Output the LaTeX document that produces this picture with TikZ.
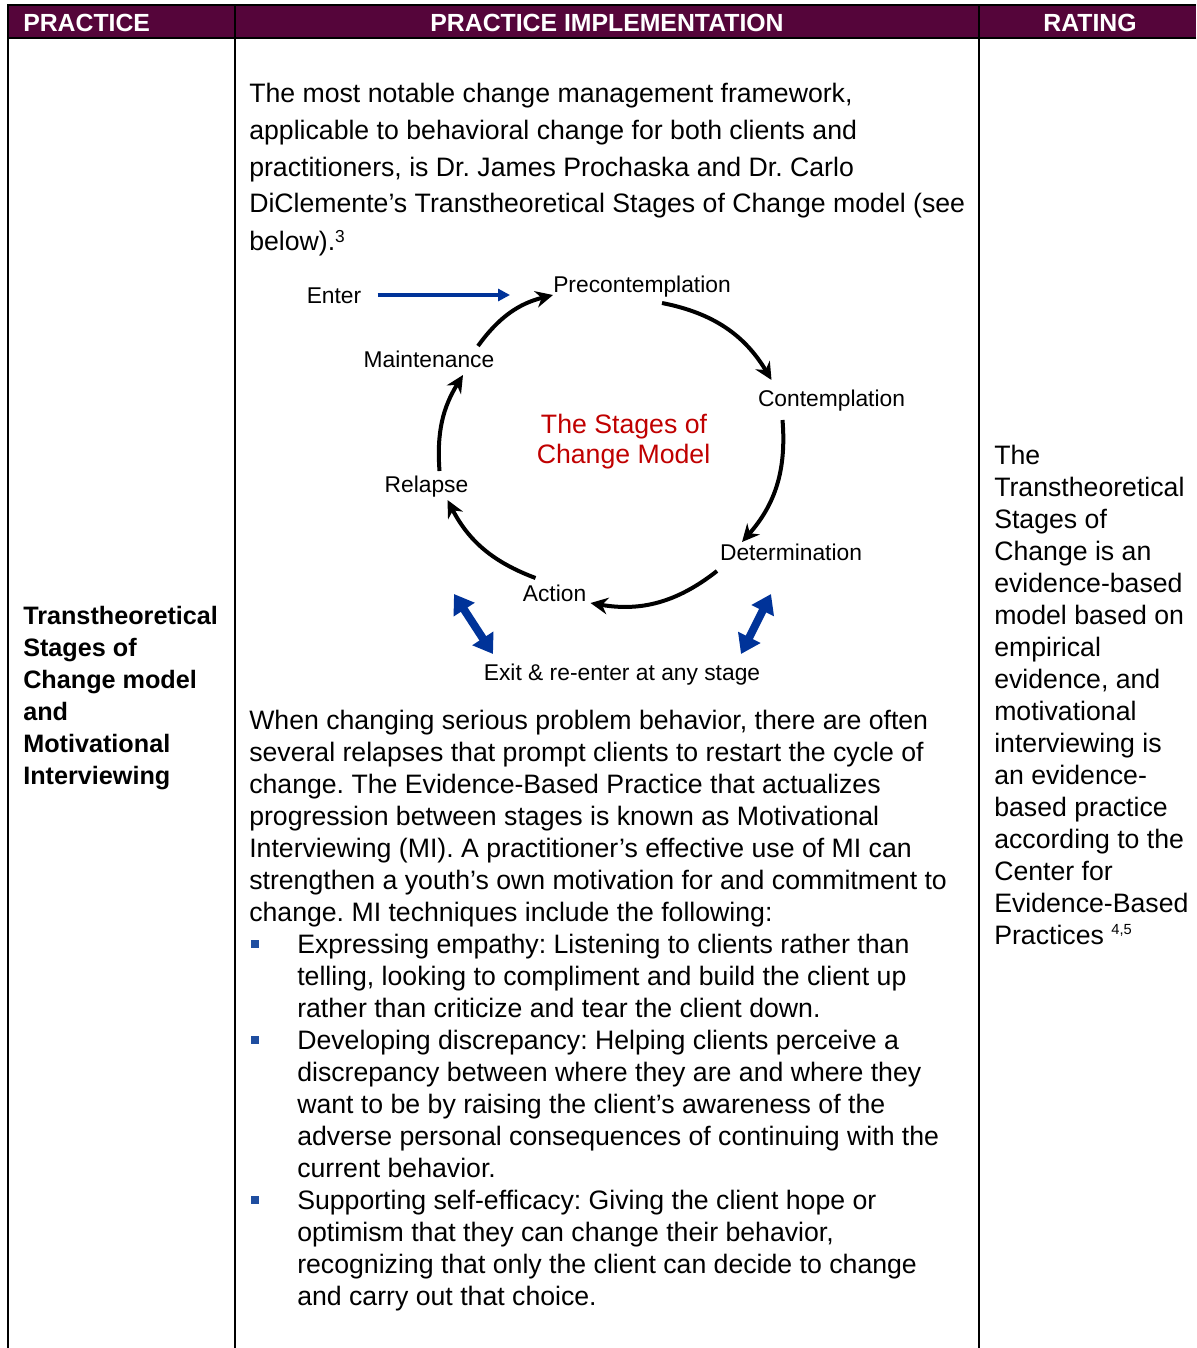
\documentclass[tikz,border=0pt]{standalone}
\usepackage{fontspec}
\setmainfont{Liberation Sans}
\usetikzlibrary{arrows.meta,calc}
\definecolor{hdrmaroon}{RGB}{85,5,58}
\definecolor{arrblue}{RGB}{0,51,153}
\definecolor{titlered}{RGB}{192,0,0}
\definecolor{bulblue}{RGB}{31,78,160}
\newcommand{\supthree}[1]{\raisebox{5.5pt}{\fontsize{13}{13}\selectfont #1}}
\newcommand{\supr}[1]{\raisebox{7.5pt}{\fontsize{11}{11}\selectfont #1}}
\frenchspacing
\begin{document}
\begin{tikzpicture}[x=0.75pt,y=-0.75pt,
  body/.style={anchor=base west, inner sep=0pt, font=\fontsize{20}{24}\selectfont},
  boldtxt/.style={anchor=base west, inner sep=0pt, font=\fontsize{18.9}{24}\selectfont\bfseries},
  hdr/.style={anchor=base, inner sep=0pt, text=white, font=\fontsize{18.6}{22}\selectfont\bfseries},
  lab/.style={anchor=base, inner sep=0pt, font=\fontsize{17.1}{20}\selectfont},
  ttl/.style={anchor=base, inner sep=0pt, text=titlered, font=\fontsize{20}{24}\selectfont},
  rule/.style={line width=1.5pt, black},
  cyc/.style={line width=3pt, -{Stealth[length=13pt,width=12.5pt]}},
  enterarr/.style={line width=2.6pt, arrblue, -{Triangle[length=9pt,width=9pt]}},
  exitarr/.style={line width=6pt, arrblue, {Triangle[length=14pt,width=18pt]}-{Triangle[length=14pt,width=18pt]}},
  bullet/.style={fill=bulblue, inner sep=0pt, minimum size=6.5pt}
]
\useasboundingbox (0,0) rectangle (1196,1348);
\fill[white] (0,0) rectangle (1196,1348);
% table
\fill[hdrmaroon] (8,6) rectangle (1196,38);
\draw[rule] (7,5.5) -- (1196,5.5);
\draw[rule] (7,38.5) -- (1196,38.5);
\draw[rule] (8,5) -- (8,1348);
\draw[rule] (235,5) -- (235,1348);
\draw[rule] (978.5,5) -- (978.5,1348);
\node[hdr, anchor=base west] (h1) at (23,31.5) {PRACTICE};
\node[hdr] (h2) at (607,31.5) {PRACTICE IMPLEMENTATION};
\node[hdr] (h3) at (1090,31.5) {RATING};
% left column
\node[boldtxt] (t1) at (23,624) {Transtheoretical};
\node[boldtxt] (t2) at (23,656) {Stages of};
\node[boldtxt] (t3) at (23,688) {Change model};
\node[boldtxt] (t4) at (23,720) {and};
\node[boldtxt] (t5) at (23,752) {Motivational};
\node[boldtxt] (t6) at (23,784) {Interviewing};
% top paragraph
\node[body] (p1) at (249,103) {The most notable change management framework,};
\node[body] (p2) at (249,140) {applicable to behavioral change for both clients and};
\node[body] (p3) at (249,177) {practitioners, is Dr. James Prochaska and Dr. Carlo};
\node[body] (p4) at (249,213) {DiClemente’s Transtheoretical Stages of Change model (see};
\node[body] (p5) at (249,250) {below).\supthree{3}};
% diagram labels
\node[lab] (enter) at (334,303) {Enter};
\node[lab] (pre) at (642,292) {Precontemplation};
\node[lab] (maint) at (429,367) {Maintenance};
\node[lab] (cont) at (831.5,406) {Contemplation};
\node[lab] (rel) at (426.5,492) {Relapse};
\node[lab] (det) at (791,560) {Determination};
\node[lab] (act) at (554.5,601) {Action};
\node[lab] (exit) at (622,680) {Exit \& re-enter at any stage};
\node[ttl] (ttl1) at (624,433) {The Stages of};
\node[ttl] (ttl2) at (623.5,463) {Change Model};
% cycle arrows
\draw[cyc] ($(maint.base)+(49,-21)$) to[bend left=20] ($(pre.base)+(-89,3)$);
\draw[cyc] ($(pre.base)+(20,11)$) to[bend left=24] ($(cont.base)+(-60,-26)$);
\draw[cyc] ($(cont.base)+(-49,14)$) to[bend left=23] ($(det.base)+(-49,-18)$);
\draw[cyc] ($(det.base)+(-74,11)$) to[bend left=24] ($(act.base)+(36,2)$);
\draw[cyc] ($(act.base)+(-19,-23)$) to[bend left=21] ($(rel.base)+(21,8)$);
\draw[cyc] ($(rel.base)+(13,-21)$) to[bend left=18] ($(maint.base)+(34,8)$);
\draw[enterarr] ($(enter.base east)+(16,-8)$) -- ($(pre.base west)+(-43,3)$);
\draw[exitarr] ($(exit.base)+(-168,-86)$) -- ($(exit.base)+(-129,-26)$);
\draw[exitarr] ($(exit.base)+(149,-86)$) -- ($(exit.base)+(119,-26)$);
% lower paragraph
\node[body] (q1) at (249,729) {When changing serious problem behavior, there are often};
\node[body] (q2) at (249,761) {several relapses that prompt clients to restart the cycle of};
\node[body] (q3) at (249,793) {change. The Evidence-Based Practice that actualizes};
\node[body] (q4) at (249,825) {progression between stages is known as Motivational};
\node[body] (q5) at (249,857) {Interviewing (MI). A practitioner’s effective use of MI can};
\node[body] (q6) at (249,889) {strengthen a youth’s own motivation for and commitment to};
\node[body] (q7) at (249,921) {change. MI techniques include the following:};
% bullets
\node[bullet] (b1) at (255,944) {};
\node[bullet] (b2) at (255,1040) {};
\node[bullet] (b3) at (255,1200) {};
\node[body] (r1) at (297,953) {Expressing empathy: Listening to clients rather than};
\node[body] (r2) at (297,985) {telling, looking to compliment and build the client up};
\node[body] (r3) at (297,1017) {rather than criticize and tear the client down.};
\node[body] (r4) at (297,1049) {Developing discrepancy: Helping clients perceive a};
\node[body] (r5) at (297,1081) {discrepancy between where they are and where they};
\node[body] (r6) at (297,1113) {want to be by raising the client’s awareness of the};
\node[body] (r7) at (297,1145) {adverse personal consequences of continuing with the};
\node[body] (r8) at (297,1177) {current behavior.};
\node[body] (r9) at (297,1209) {Supporting self-efficacy: Giving the client hope or};
\node[body] (r10) at (297,1241) {optimism that they can change their behavior,};
\node[body] (r11) at (297,1273) {recognizing that only the client can decide to change};
\node[body] (r12) at (297,1305) {and carry out that choice.};
% right column
\node[body] (s1) at (994,464) {The};
\node[body] (s2) at (994,496) {Transtheoretical};
\node[body] (s3) at (994,528) {Stages of};
\node[body] (s4) at (994,560) {Change is an};
\node[body] (s5) at (994,592) {evidence-based};
\node[body] (s6) at (994,624) {model based on};
\node[body] (s7) at (994,656) {empirical};
\node[body] (s8) at (994,688) {evidence, and};
\node[body] (s9) at (994,720) {motivational};
\node[body] (s10) at (994,752) {interviewing is};
\node[body] (s11) at (994,784) {an evidence-};
\node[body] (s12) at (994,816) {based practice};
\node[body] (s13) at (994,848) {according to the};
\node[body] (s14) at (994,880) {Center for};
\node[body] (s15) at (994,912) {Evidence-Based};
\node[body] (s16) at (994,944) {Practices \supr{4,5}};
\end{tikzpicture}
\end{document}
